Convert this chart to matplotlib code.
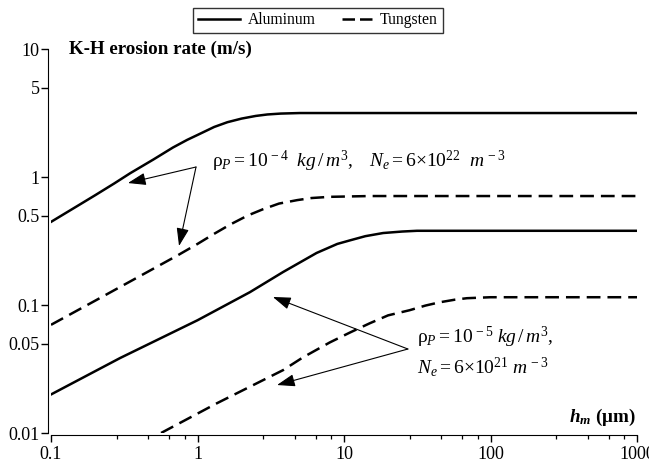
import numpy as np
import matplotlib
matplotlib.use("Agg")
import matplotlib.pyplot as plt
from matplotlib.ticker import FixedLocator, NullFormatter

plt.rcParams['font.family'] = ['Liberation Serif', 'DejaVu Serif']
plt.rcParams['mathtext.fontset'] = 'custom'
plt.rcParams['mathtext.rm'] = 'Liberation Serif'
plt.rcParams['mathtext.it'] = 'Liberation Serif:italic'
plt.rcParams['mathtext.bf'] = 'Liberation Serif:bold'
plt.rcParams['mathtext.bfit'] = 'Liberation Serif:bold:italic'

# data (h_m in um, rate in m/s)
al_hi_x = [0.1, 0.15, 0.2, 0.27, 0.347, 0.5, 0.68, 0.85, 1.0, 1.15, 1.3, 1.6, 2.0, 2.5, 3.0, 3.7, 5.0, 10, 100, 1000]
al_hi_y = [0.446, 0.59, 0.72, 0.89, 1.07, 1.37, 1.70, 1.95, 2.13, 2.30, 2.46, 2.68, 2.86, 3.00, 3.08, 3.13, 3.16, 3.16, 3.16, 3.16]

w_hi_x = [0.1, 0.2, 0.4, 0.74, 1.0, 1.3, 1.67, 2.2, 2.8, 3.6, 4.8, 6.0, 8.0, 15, 100, 1000]
w_hi_y = [0.070, 0.108, 0.167, 0.246, 0.30, 0.36, 0.425, 0.50, 0.56, 0.62, 0.66, 0.685, 0.70, 0.71, 0.71, 0.71]

al_lo_x = [0.1, 0.296, 1.0, 2.28, 3.84, 6.5, 9.0, 11, 14, 18.5, 25, 31.5, 50, 100, 1000]
al_lo_y = [0.020, 0.0385, 0.076, 0.126, 0.181, 0.255, 0.30, 0.32, 0.345, 0.365, 0.375, 0.38, 0.38, 0.38, 0.38]

w_lo_x = [0.564, 1.36, 3.84, 5.25, 8.0, 11, 15, 20, 28, 36, 45, 57, 69, 100, 1000]
w_lo_y = [0.010, 0.0171, 0.031, 0.039, 0.051, 0.061, 0.072, 0.083, 0.091, 0.099, 0.105, 0.110, 0.113, 0.115, 0.115]

y_ticks = [0.01, 0.05, 0.1, 0.5, 1, 5, 10]
y_labels = ['0.01', '0.05', '0.1', '0.5', '1', '5', '10']
x_ticks = [0.1, 1, 10, 100, 1000]
x_labels = ['0.1', '1', '10', '100', '1000']

fig = plt.figure(figsize=(6.49, 4.62), dpi=100)
ax = fig.add_axes([51/649, 1 - 433/462, 586/649, 384/462])

lw = 1.8
dash = (5.5, 2.8)
ax.plot(al_hi_x, al_hi_y, color='black', lw=lw, label='Aluminum')
ax.plot(w_hi_x, w_hi_y, color='black', lw=lw, dashes=dash, label='Tungsten')
ax.plot(al_lo_x, al_lo_y, color='black', lw=lw)
ax.plot(w_lo_x, w_lo_y, color='black', lw=lw, dashes=dash)

ax.set_xscale('log')
ax.set_yscale('log')
ax.set_xlim(0.1, 1000)
ax.set_ylim(0.01, 10)

ax.spines['top'].set_visible(False)
ax.spines['right'].set_visible(False)
ax.spines['left'].set_position(('outward', 2.2))
ax.spines['bottom'].set_position(('outward', 1.4))

ax.yaxis.set_major_locator(FixedLocator(y_ticks))
ax.set_yticklabels(y_labels)
ax.yaxis.set_minor_locator(FixedLocator([]))
ax.xaxis.set_major_locator(FixedLocator(x_ticks))
ax.set_xticklabels(x_labels)
minor = [d * m for d in [0.1, 1, 10, 100] for m in [2.8, 4.6, 6.4, 8.2]]
ax.xaxis.set_minor_locator(FixedLocator(minor))
ax.xaxis.set_minor_formatter(NullFormatter())
ax.tick_params(axis='both', which='major', direction='out', length=5, width=1, labelsize=13)
ax.tick_params(axis='y', which='major', pad=1)
ax.tick_params(axis='x', which='minor', direction='out', length=3, width=0.9)
ax.tick_params(axis='x', which='major', pad=3)

fig.text(69/649, 1 - 49/462, 'K-H erosion rate (m/s)', fontsize=13.7, fontweight='bold',
         ha='left', va='center')
ax.text(0.998, 0.04, r'$\mathbfit{h}_{\mathbfit{m}}$ (μm)', transform=ax.transAxes,
        fontsize=13.7, fontweight='bold', ha='right', va='center')

arrow = dict(arrowstyle='-|>,head_length=1.1,head_width=0.38', color='black', lw=0.8,
             shrinkA=0, shrinkB=0)
ax.annotate('', xy=(0.335, 0.897), xytext=(0.977, 1.197), arrowprops=arrow)
ax.annotate('', xy=(0.748, 0.289), xytext=(0.977, 1.197), arrowprops=arrow)
ax.annotate('', xy=(3.27, 0.1155), xytext=(27.3, 0.0453), arrowprops=arrow)
ax.annotate('', xy=(3.49, 0.0237), xytext=(27.3, 0.0453), arrowprops=arrow)

ax.text(1.256, 1.197,
        r'$\mathrm{\rho}_P = 10^{\,-4}\ \ kg\,/\,m^3,\quad N_e = 6{\times}10^{22}\ \ m^{\,-3}$',
        fontsize=14, ha='left', va='baseline')
ax.text(31.5, 0.0505, r'$\mathrm{\rho}_P = 10^{\,-5}\ kg\,/\,m^3,$',
        fontsize=14, ha='left', va='baseline')
ax.text(31.5, 0.0294, r'$N_e = 6{\times}10^{21}\ m^{\,-3}$',
        fontsize=14, ha='left', va='baseline')

leg = fig.legend(loc='center', bbox_to_anchor=(318/649, 1 - 20.5/462), ncol=2,
                 fontsize=11.3, frameon=True, fancybox=False, edgecolor='black',
                 handlelength=2.68, columnspacing=0.9, borderpad=0.3, handletextpad=0.5)
leg.get_frame().set_linewidth(1.0)
leg.get_lines()[1].set_linestyle((12.0, (5.0, 2.0, 5.0, 4.8)))

fig.savefig('out.png', dpi=100)
